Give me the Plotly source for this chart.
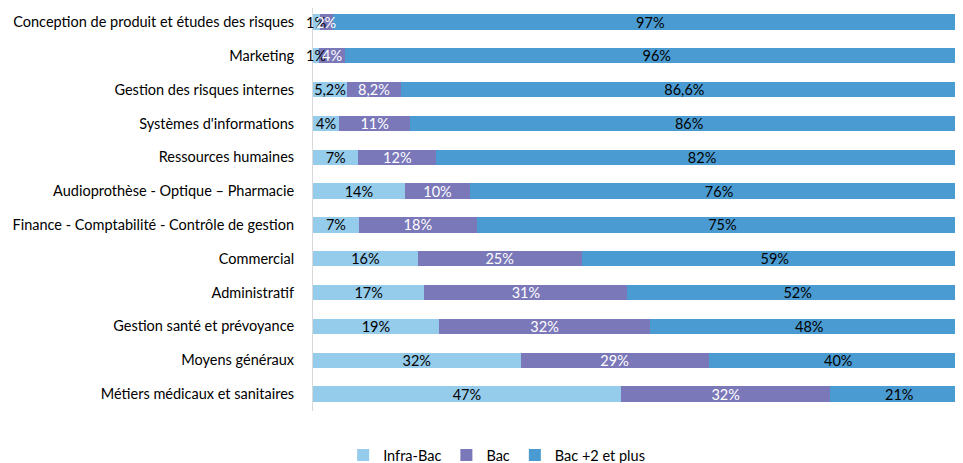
import plotly.graph_objects as go

categories = [
    "Conception de produit et études des risques",
    "Marketing",
    "Gestion des risques internes",
    "Systèmes d'informations",
    "Ressources humaines",
    "Audioprothèse - Optique – Pharmacie",
    "Finance - Comptabilité - Contrôle de gestion",
    "Commercial",
    "Administratif",
    "Gestion santé et prévoyance",
    "Moyens généraux",
    "Métiers médicaux et sanitaires",
]
infra_bac = [1, 1, 5.2, 4, 7, 14, 7, 16, 17, 19, 32, 47]
bac = [2, 4, 8.2, 11, 12, 10, 18, 25, 31, 32, 29, 32]
bac_plus2 = [97, 96, 86.6, 86, 82, 76, 75, 59, 52, 48, 40, 21]

series = [
    ("Infra-Bac", infra_bac, "#95CBEB", "#000000"),
    ("Bac", bac, "#7B78B9", "#FFFFFF"),
    ("Bac +2 et plus", bac_plus2, "#4A9BD1", "#000000"),
]

FONT = "Lato"
FS = 14.5
SMALL = 5  # segments narrower than this get their label as an annotation


def fmt(v):
    return f"{v:g}".replace(".", ",") + "%"


totals = [sum(t) for t in zip(infra_bac, bac, bac_plus2)]

fig = go.Figure()
annotations = []
cum = [0.0] * len(categories)
for name, vals, color, tcolor in series:
    texts = []
    for i, v in enumerate(vals):
        share = v / totals[i] * 100
        if share < SMALL:
            texts.append("")
            annotations.append(dict(
                x=cum[i] + share / 2, y=categories[i], xref="x", yref="y",
                text=fmt(v), showarrow=False,
                font=dict(color=tcolor, size=FS, family=FONT)))
        else:
            texts.append(fmt(v))
        cum[i] += share
    fig.add_trace(go.Bar(
        name=name, y=categories, x=vals, orientation="h",
        marker=dict(color=color, line=dict(width=0)),
        text=texts, textposition="inside", insidetextanchor="middle",
        constraintext="none", textangle=0,
        textfont=dict(color=tcolor, size=FS, family=FONT),
        hoverinfo="skip",
    ))

fig.update_layout(
    barmode="stack", barnorm="percent", bargap=0.55,
    width=947, height=463,
    margin=dict(l=305, r=0, t=0, b=60),
    paper_bgcolor="white", plot_bgcolor="white",
    font=dict(family=FONT, size=FS, color="#000000"),
    annotations=annotations,
    xaxis=dict(range=[0, 98.02], showgrid=False, zeroline=False,
               showticklabels=False, ticks="", fixedrange=True),
    yaxis=dict(range=[11.502, -0.414], showline=True, linecolor="#D9D9D9",
               linewidth=1, ticks="", ticklabelstandoff=15,
               tickfont=dict(size=FS, color="#000000")),
    legend=dict(orientation="h", xref="container", yref="container",
                x=0.516, xanchor="center", y=0.0346, yanchor="middle",
                font=dict(size=FS, color="#000000"), traceorder="normal"),
)

fig.write_html("out.html")
